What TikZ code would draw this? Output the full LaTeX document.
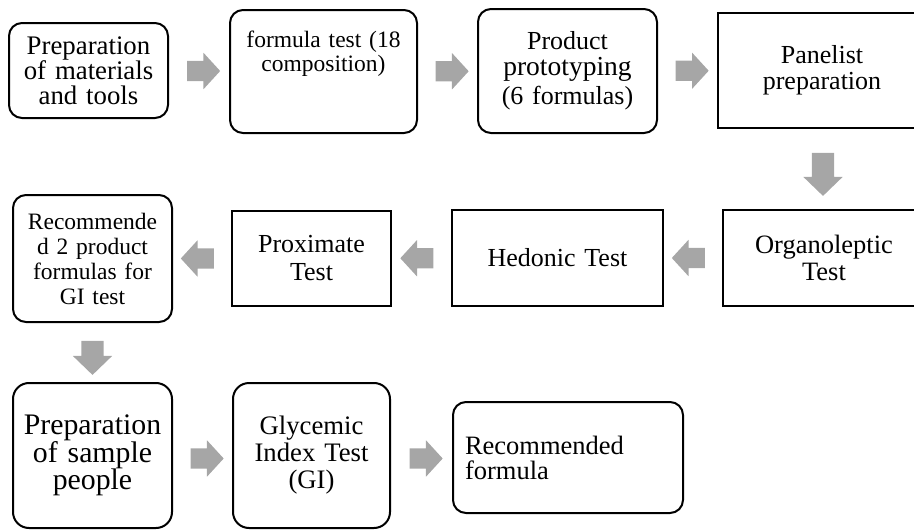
\documentclass[tikz,border=0pt]{standalone}
\usepackage{fontspec}
\setmainfont{Liberation Serif}
\usetikzlibrary{positioning, calc, shapes.arrows}
\definecolor{ArrowGrey}{HTML}{A6A6A6}

\tikzset{
  procbox/.style={draw, line width=2pt, rounded corners=13pt, align=center,
    inner xsep=4pt, inner ysep=0pt, font=\fontsize{26pt}{26pt}\selectfont},
  sqbox/.style={procbox, sharp corners},
  flowarrow/.style={single arrow, fill=ArrowGrey, inner sep=10pt, text height=0pt, text depth=0pt,
    minimum height=33pt, single arrow head extend=8pt, single arrow tip angle=95},
  leftarrow/.style={flowarrow, shape border rotate=180},
  downarrow/.style={flowarrow, shape border rotate=270, inner sep=11pt,
    single arrow head extend=8.5pt, single arrow tip angle=92},
}

\begin{document}
\begin{tikzpicture}[x=1pt, y=-1pt]
  \useasboundingbox (0,0) rectangle (914,530);
  \clip (0,0) rectangle (914,530);
  % Row 1
  \node[procbox, text width=151pt, minimum height=95pt, font=\fontsize{26.8pt}{24.5pt}\selectfont] (prep) at (88.5,70.5) {Preparation\\of materials\\and tools};
  \node[procbox, text width=179pt, text height=37pt, text depth=86pt, font=\fontsize{23.5pt}{24.5pt}\selectfont] (ftest) at (323.5,71.5) {formula test (18\\composition)};
  \node[procbox, text width=171pt, minimum height=124pt] (proto) at (567.5,71) {Product\\{\fontsize{27.5pt}{26pt}\selectfont prototyping}\\[3pt](6 formulas)};
  \node[sqbox, text width=200pt, minimum height=115pt] (panel) at (822,70.5) {Panelist\\preparation};
  % Row 2
  \node[sqbox, text width=194pt, minimum height=96pt, font=\fontsize{26.5pt}{27.5pt}\selectfont] (organo) at (824,258) {Organoleptic\\Test};
  \node[sqbox, text width=203pt, minimum height=96pt] (hedonic) at (557.5,258) {Hedonic Test};
  \node[sqbox, text width=151pt, minimum height=95pt, font=\fontsize{26pt}{28pt}\selectfont] (proxim) at (311.5,258.5) {Proximate\\Test};
  \node[procbox, text width=151pt, minimum height=127pt, font=\fontsize{23.5pt}{25pt}\selectfont] (recom) at (92.5,258.5) {Recommende\\d 2 product\\formulas for\\GI test};
  % Row 3
  \node[procbox, rounded corners=16pt, text width=151pt, minimum height=145pt, font=\fontsize{29.8pt}{27.5pt}\selectfont] (sample) at (92.5,455.5) {Preparation\\of sample\\people};
  \node[procbox, rounded corners=16pt, text width=149pt, minimum height=145pt, font=\fontsize{26.7pt}{27pt}\selectfont] (glyc) at (311.5,455.5) {Glycemic\\Index Test\\(GI)};
  \node[procbox, align=left, inner xsep=12pt, text width=206pt, minimum height=111pt, font=\fontsize{26.5pt}{25pt}\selectfont] (result) at (568,457.5) {Recommended\\formula};
  % Block arrows
  \node[flowarrow] (a1) at ($(prep.east)!0.5!(ftest.west)$) {};
  \node[flowarrow] (a2) at ($(ftest.east)!0.5!(proto.west)$) {};
  \node[flowarrow] (a3) at ($(proto.east)!0.5!(panel.west)$) {};
  \node[downarrow, minimum height=43pt] (a4) at ($(panel.south)!0.5!(organo.north)$) {};
  \node[leftarrow] (a5) at ($(organo.west)!0.5!(hedonic.east)$) {};
  \node[leftarrow] (a6) at ($(hedonic.west)!0.5!(proxim.east)$) {};
  \node[leftarrow] (a7) at ($(proxim.west)!0.5!(recom.east)$) {};
  \node[downarrow, minimum height=34pt] (a8) at ($(recom.south)!0.5!(sample.north)$) {};
  \node[flowarrow, yshift=-3pt] (a9) at ($(sample.east)!0.5!(glyc.west)$) {};
  \node[flowarrow, yshift=-2pt] (a10) at ($(glyc.east)!0.5!(result.west)$) {};
\end{tikzpicture}
\end{document}
